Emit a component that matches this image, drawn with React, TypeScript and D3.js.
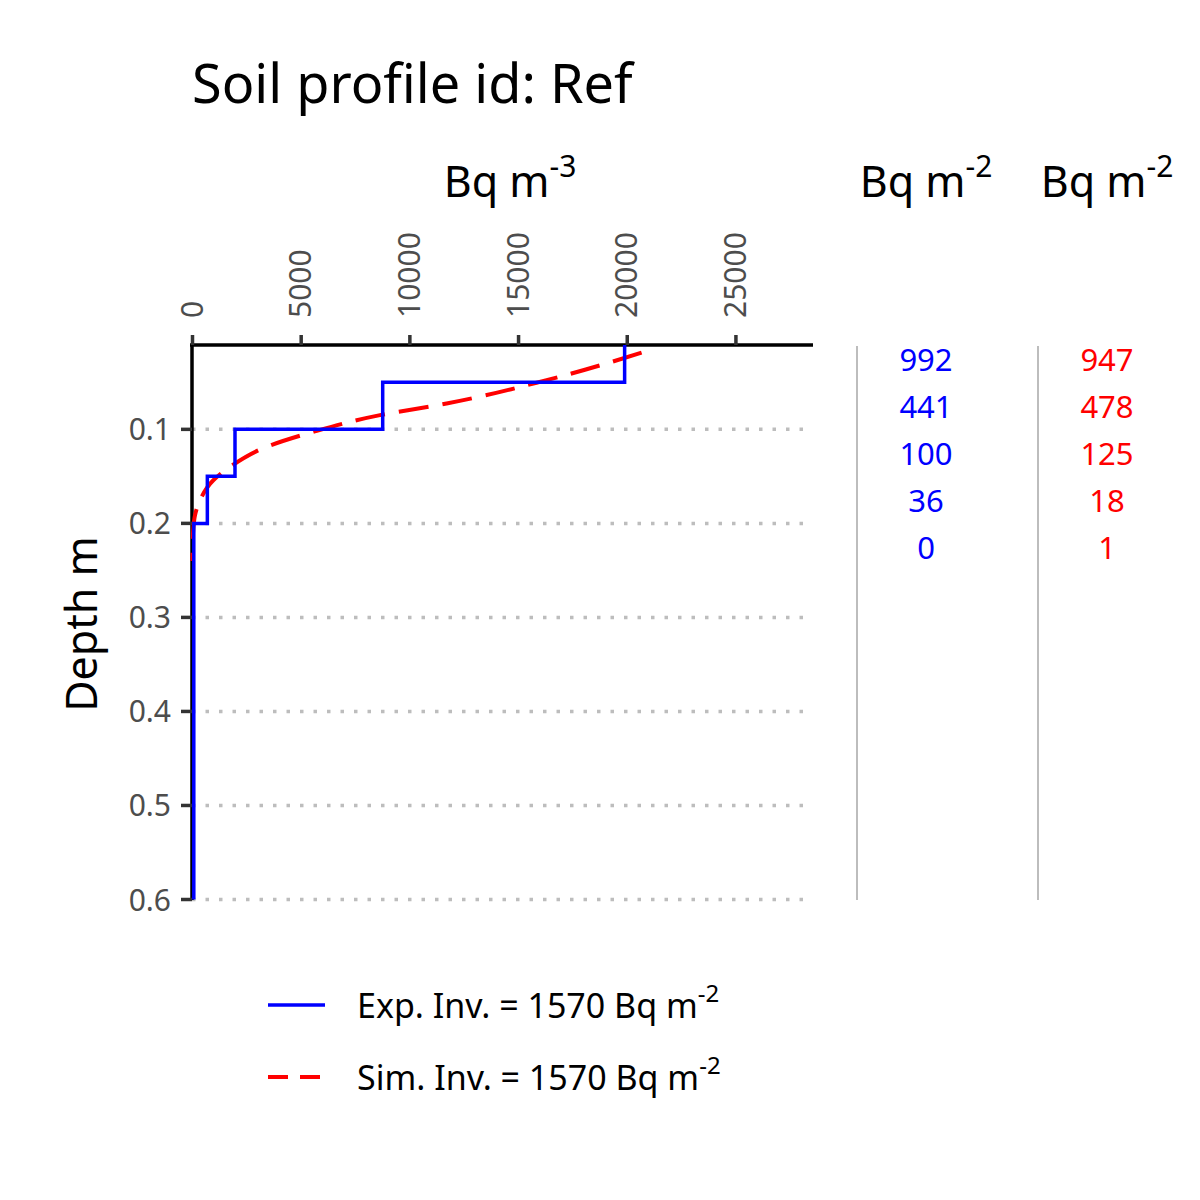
import * as d3 from 'd3';

// measured profile (Bq m-3) per layer
const layerTop = [0, 0.05, 0.1, 0.15, 0.2];
const layerBottom = [0.05, 0.1, 0.15, 0.2, 0.6];
const expConc = [19880, 8750, 1955, 683, 60];

// simulated profile
const simDepth = [0.0185, 0.0477, 0.0725, 0.0849, 0.1027, 0.1186, 0.1399, 0.1541, 0.1754, 0.1914, 0.205, 0.22, 0.24];
const simConc = [20660, 16290, 11690, 8625, 5557, 3413, 1725, 957, 345, 115, 40, 10, 0];

const expInv = ['992', '441', '100', '36', '0'];
const simInv = ['947', '478', '125', '18', '1'];

const xTicks = [0, 5000, 10000, 15000, 20000, 25000];
const yTicks = [0.1, 0.2, 0.3, 0.4, 0.5, 0.6];

const FONT = '"Noto Sans", "Open Sans", sans-serif';

export default function App() {
  const x = d3.scaleLinear().domain([0, 28500]).range([192.5, 812]);
  const y = d3.scaleLinear().domain([0.0103, 0.6]).range([345, 899.5]);
  const yClip = (d: number) => y(Math.max(d, 0.0103));

  const stepPts: [number, number][] = [];
  expConc.forEach((c, i) => {
    stepPts.push([x(c), yClip(layerTop[i])]);
    stepPts.push([x(c), yClip(layerBottom[i])]);
  });
  const stepPath = d3.line()(stepPts) || '';

  const simPath =
    d3
      .line<number>()
      .x((_, i) => x(simConc[i]))
      .y((d) => y(d))
      .curve(d3.curveMonotoneY)(simDepth) || '';

  const rowY = (i: number) => 360 + i * 47;

  return (
    <svg width={1200} height={1200} style={{ position: 'absolute', left: 0, top: 0, background: '#fff' }} fontFamily={FONT}>
      <text x={192} y={103} fontSize={54}>Soil profile id: Ref</text>

      {/* grid */}
      {yTicks.map((t) => (
        <line key={t} x1={192} x2={805} y1={y(t)} y2={y(t)} stroke="#bdbdbd" strokeWidth={3.5} strokeDasharray="3.5 10" />
      ))}

      {/* top axis */}
      <line x1={190} x2={813} y1={345} y2={345} stroke="#000" strokeWidth={3.5} />
      {xTicks.map((t) => (
        <g key={t}>
          <line x1={x(t)} x2={x(t)} y1={335} y2={345} stroke="#333" strokeWidth={3.5} />
          <text transform={`translate(${x(t) + 10},${318}) rotate(-90)`} fontSize={30} fill="#4d4d4d">{t}</text>
        </g>
      ))}
      <text x={510} y={197} fontSize={43} textAnchor="middle">
        Bq m<tspan dy={-20} fontSize={30}>-3</tspan>
      </text>

      {/* left axis */}
      <line x1={192} x2={192} y1={345} y2={900} stroke="#000" strokeWidth={3.5} />
      {yTicks.map((t) => (
        <g key={t}>
          <line x1={181} x2={192} y1={y(t)} y2={y(t)} stroke="#333" strokeWidth={3.5} />
          <text x={171} y={y(t) + 11} fontSize={30} fill="#4d4d4d" textAnchor="end">{t.toFixed(1)}</text>
        </g>
      ))}
      <text transform="translate(97,624) rotate(-90)" fontSize={43} textAnchor="middle">Depth m</text>

      {/* data */}
      <path d={simPath} fill="none" stroke="#ff0000" strokeWidth={4} strokeDasharray="30 14" />
      <path d={stepPath} fill="none" stroke="#0000ff" strokeWidth={3.5} />

      {/* inventory columns */}
      {[
        { cx: 926, lx: 857, vals: expInv, col: '#0000ff' },
        { cx: 1107, lx: 1038, vals: simInv, col: '#ff0000' },
      ].map((c) => (
        <g key={c.cx}>
          <text x={c.cx} y={197} fontSize={43} textAnchor="middle">
            Bq m<tspan dy={-20} fontSize={30}>-2</tspan>
          </text>
          <line x1={c.lx} x2={c.lx} y1={346} y2={900} stroke="#bdbdbd" strokeWidth={2} />
          {c.vals.map((v, i) => (
            <text key={i} x={c.cx} y={rowY(i) + 11} fontSize={31} fill={c.col} textAnchor="middle">{v}</text>
          ))}
        </g>
      ))}

      {/* legend */}
      <line x1={268} x2={325} y1={1005} y2={1005} stroke="#0000ff" strokeWidth={3.5} />
      <text x={357} y={1018} fontSize={34}>
        Exp. Inv. = 1570 Bq m<tspan dy={-16} fontSize={24}>-2</tspan>
      </text>
      <line x1={268} x2={325} y1={1077} y2={1077} stroke="#ff0000" strokeWidth={4} strokeDasharray="20 12" />
      <text x={357} y={1090} fontSize={34}>
        Sim. Inv. = 1570 Bq m<tspan dy={-16} fontSize={24}>-2</tspan>
      </text>
    </svg>
  );
}
